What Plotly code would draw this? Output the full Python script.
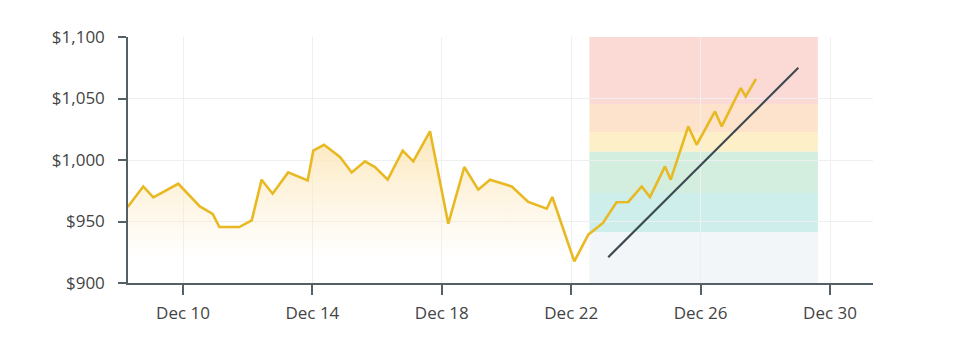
import plotly.graph_objects as go

# Price history (irregular timestamps)
price_times = [
    "2023-12-08 07:00", "2023-12-08 18:30", "2023-12-09 02:00", "2023-12-09 20:30",
    "2023-12-10 12:30", "2023-12-10 22:00", "2023-12-11 03:00", "2023-12-11 17:45",
    "2023-12-12 03:00", "2023-12-12 10:20", "2023-12-12 18:30", "2023-12-13 06:00",
    "2023-12-13 20:30", "2023-12-14 00:40", "2023-12-14 08:37", "2023-12-14 20:28",
    "2023-12-15 05:10", "2023-12-15 15:02", "2023-12-15 22:26", "2023-12-16 07:52",
    "2023-12-16 18:59", "2023-12-17 02:51", "2023-12-17 15:14", "2023-12-18 04:49",
    "2023-12-18 16:42", "2023-12-19 03:04", "2023-12-19 11:45", "2023-12-20 03:52",
    "2023-12-20 16:10", "2023-12-21 05:50", "2023-12-21 09:59", "2023-12-22 02:18",
    "2023-12-22 12:41", "2023-12-22 23:36", "2023-12-23 09:36", "2023-12-23 18:21",
    "2023-12-24 04:18", "2023-12-24 10:28", "2023-12-24 21:35", "2023-12-25 01:49",
    "2023-12-25 14:52", "2023-12-25 21:06", "2023-12-26 10:41", "2023-12-26 15:39",
    "2023-12-27 05:45", "2023-12-27 09:27", "2023-12-27 17:07",
]
price_values = [
    961.8, 978.5, 969.6, 980.7,
    962.3, 956.1, 945.5, 945.5,
    950.9, 984.0, 972.6, 989.9,
    983.4, 1007.6, 1012.4, 1002.4,
    989.9, 998.9, 994.3, 984.0,
    1007.6, 998.9, 1023.3, 948.2,
    994.3, 975.9, 984.0, 978.5,
    965.9, 960.4, 969.9, 917.6,
    939.3, 948.8, 965.7, 965.9,
    978.5, 969.9, 994.8, 984.0,
    1027.3, 1012.4, 1039.5, 1027.3,
    1058.5, 1051.7, 1065.9,
]
history_count = 33  # points shaded with the gradient area

# Trend line
trend_times = ["2023-12-23 03:30", "2023-12-29 00:30"]
trend_values = [921.0, 1075.0]

# Forecast bands (lower, upper) and colours
band_start = "2023-12-22 13:30"
band_end = "2023-12-29 15:00"
band_edges = [900, 941.5, 973.2, 1007.0, 1022.8, 1045.5, 1100]
band_colors = ["#f2f6f8", "#cdeeea", "#d3eedf", "#fdf0c8", "#fde3cc", "#fbdad6"]

x_range = ["2023-12-08 07:12", "2023-12-31 07:54"]
y_range = [900, 1100]

fig = go.Figure()

fig.add_trace(go.Scatter(
    x=price_times[:history_count], y=price_values[:history_count],
    mode="lines", line=dict(width=0), fill="tozeroy",
    fillgradient=dict(
        type="vertical",
        colorscale=[[0, "rgba(253,236,200,0)"], [1, "rgba(252,232,190,1)"]],
        start=920, stop=1020,
    ),
    hoverinfo="skip", showlegend=False,
))
fig.add_trace(go.Scatter(
    x=price_times, y=price_values, mode="lines",
    line=dict(color="#e8b923", width=2.6), showlegend=False,
))
fig.add_trace(go.Scatter(
    x=trend_times, y=trend_values, mode="lines",
    line=dict(color="#3e4a52", width=2.2), showlegend=False,
))

for i, c in enumerate(band_colors):
    fig.add_shape(type="rect", xref="x", yref="y",
                  x0=band_start, x1=band_end,
                  y0=band_edges[i], y1=band_edges[i + 1],
                  fillcolor=c, line=dict(width=0), layer="below")

font = dict(family="Open Sans", size=17, color="#444444")
fig.update_layout(
    width=957, height=351,
    margin=dict(l=128, r=84, t=37, b=68),
    paper_bgcolor="white", plot_bgcolor="white",
    font=font,
    xaxis=dict(
        type="date", range=x_range,
        tick0="2023-12-10", dtick=4 * 86400000, tickformat="%b %d",
        showgrid=True, gridcolor="#efefef", gridwidth=1,
        showline=True, linecolor="#555f66", linewidth=1.5,
        ticks="outside", ticklen=10, tickcolor="#555f66", tickwidth=1.5,
        ticklabelstandoff=4,
        zeroline=False,
    ),
    yaxis=dict(
        range=y_range, dtick=50, tickprefix="$", tickformat=",d",
        showgrid=True, gridcolor="#efefef", gridwidth=1,
        showline=True, linecolor="#555f66", linewidth=1.5,
        ticks="outside", ticklen=8, tickcolor="#555f66", tickwidth=1.5,
        ticklabelstandoff=10,
        zeroline=False,
    ),
)

fig.write_html("out.html")
